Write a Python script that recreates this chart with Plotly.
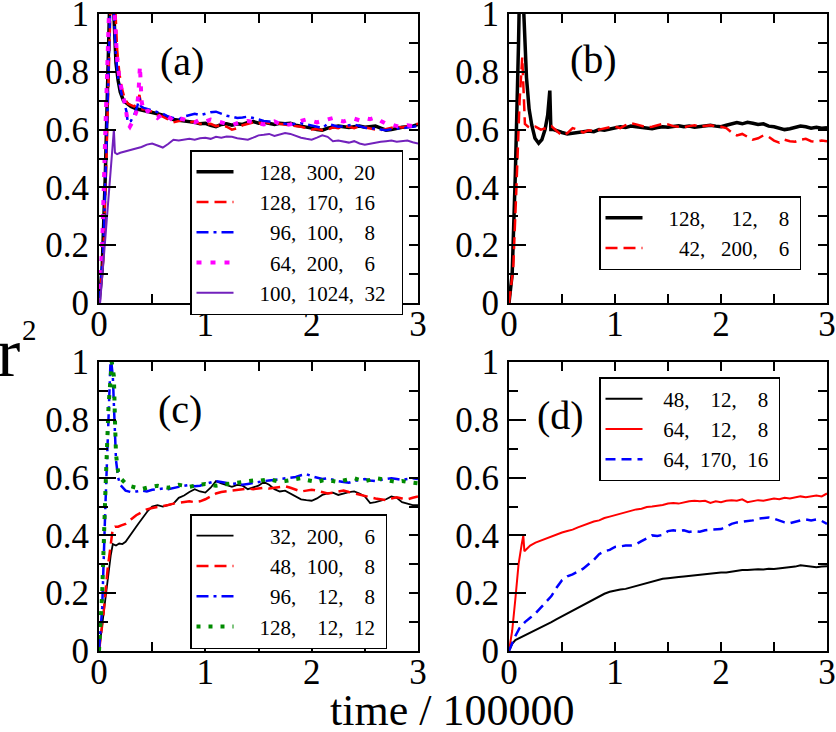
import plotly.graph_objects as go

# ---------------- shared time grid (time / 100000) for t >= 0.5 ----------------
GRID = [0.5, 0.55, 0.6, 0.65, 0.7, 0.75, 0.8, 0.85, 0.9, 0.95,
        1.0, 1.05, 1.1, 1.15, 1.2, 1.25, 1.3, 1.35, 1.4, 1.45,
        1.5, 1.55, 1.6, 1.65, 1.7, 1.75, 1.8, 1.85, 1.9, 1.95,
        2.0, 2.05, 2.1, 2.15, 2.2, 2.25, 2.3, 2.35, 2.4, 2.45,
        2.5, 2.55, 2.6, 2.65, 2.7, 2.75, 2.8, 2.85, 2.9, 2.95,
        3.0]

# ---------------- panel (a) ----------------
a_black_t0 = [0, 0.03, 0.06, 0.09, 0.115, 0.14, 0.16, 0.18, 0.2, 0.23, 0.26, 0.3, 0.35, 0.4, 0.45]
a_black_y0 = [0, 0.12, 0.45, 0.88, 1.25, 1.0, 0.83, 0.77, 0.73, 0.70, 0.69, 0.68, 0.672, 0.668, 0.665]
a_black_y = [0.662, 0.655, 0.65, 0.642, 0.635, 0.632, 0.630, 0.628, 0.625, 0.62,
             0.622, 0.615, 0.61, 0.618, 0.62, 0.615, 0.62, 0.618, 0.625, 0.628,
             0.622, 0.625, 0.62, 0.618, 0.622, 0.62, 0.622, 0.615, 0.612, 0.61,
             0.605, 0.6, 0.598, 0.605, 0.608, 0.612, 0.61, 0.607, 0.61, 0.612,
             0.608, 0.61, 0.612, 0.605, 0.598, 0.6, 0.605, 0.608, 0.61, 0.612,
             0.618]

a_red_t0 = [0, 0.04, 0.07, 0.1, 0.125, 0.15, 0.17, 0.19, 0.21, 0.24, 0.27, 0.3, 0.33, 0.36, 0.38, 0.39, 0.41, 0.45]
a_red_y0 = [0, 0.15, 0.5, 0.95, 1.25, 1.05, 0.88, 0.8, 0.75, 0.71, 0.69, 0.685, 0.68, 0.69, 0.72, 0.70, 0.67, 0.67]
a_red_y = [0.66, 0.652, 0.645, 0.635, 0.625, 0.63, 0.635, 0.625, 0.628, 0.62,
           0.618, 0.62, 0.612, 0.615, 0.61, 0.6, 0.605, 0.615, 0.62, 0.625,
           0.62, 0.628, 0.622, 0.625, 0.62, 0.618, 0.615, 0.612, 0.61, 0.605,
           0.6, 0.602, 0.598, 0.6, 0.608, 0.605, 0.612, 0.61, 0.605, 0.612,
           0.608, 0.602, 0.6, 0.598, 0.602, 0.605, 0.61, 0.607, 0.612, 0.615,
           0.62]

a_blue_t0 = [0, 0.04, 0.07, 0.1, 0.12, 0.14, 0.16, 0.18, 0.2, 0.22, 0.24, 0.26, 0.27, 0.3, 0.33, 0.36, 0.38, 0.395, 0.42, 0.46]
a_blue_y0 = [0, 0.18, 0.55, 0.98, 1.2, 1.0, 0.85, 0.78, 0.74, 0.71, 0.69, 0.66, 0.625, 0.63, 0.65, 0.68, 0.71, 0.68, 0.675, 0.67]
a_blue_y = [0.665, 0.66, 0.655, 0.645, 0.64, 0.635, 0.645, 0.65, 0.655, 0.65,
            0.655, 0.66, 0.662, 0.655, 0.648, 0.645, 0.64, 0.642, 0.645, 0.64,
            0.635, 0.63, 0.628, 0.625, 0.622, 0.62, 0.618, 0.62, 0.622, 0.618,
            0.615, 0.61, 0.605, 0.62, 0.615, 0.61, 0.612, 0.615, 0.618, 0.612,
            0.608, 0.602, 0.605, 0.6, 0.598, 0.602, 0.605, 0.603, 0.608, 0.61,
            0.612]

a_mag_t0 = [0, 0.03, 0.06, 0.09, 0.11, 0.13, 0.15, 0.17, 0.19, 0.21, 0.23, 0.25, 0.27, 0.29, 0.32, 0.35, 0.37, 0.385, 0.4, 0.42, 0.46]
a_mag_y0 = [0, 0.2, 0.6, 0.95, 1.2, 1.1, 0.95, 0.85, 0.78, 0.74, 0.71, 0.68, 0.62, 0.61, 0.63, 0.66, 0.72, 0.82, 0.7, 0.66, 0.665]
a_mag_y = [0.655, 0.64, 0.655, 0.645, 0.63, 0.64, 0.635, 0.63, 0.625, 0.635,
           0.628, 0.635, 0.63, 0.625, 0.62, 0.615, 0.622, 0.628, 0.63, 0.625,
           0.62, 0.618, 0.622, 0.628, 0.62, 0.615, 0.618, 0.625, 0.63, 0.635,
           0.63, 0.625, 0.63, 0.635, 0.64, 0.632, 0.628, 0.635, 0.638, 0.632,
           0.64, 0.636, 0.642, 0.63, 0.62, 0.618, 0.612, 0.61, 0.615, 0.612,
           0.61]

a_pur_t0 = [0, 0.01, 0.05, 0.09, 0.12, 0.14, 0.15, 0.17, 0.2, 0.25, 0.3, 0.35, 0.4, 0.45]
a_pur_y0 = [0, 0, 0.18, 0.37, 0.5, 0.6, 0.52, 0.515, 0.52, 0.525, 0.53, 0.535, 0.54, 0.548]
a_pur_y = [0.552, 0.545, 0.538, 0.55, 0.565, 0.562, 0.565, 0.568, 0.565, 0.57,
           0.572, 0.568, 0.575, 0.572, 0.576, 0.575, 0.57, 0.568, 0.565, 0.572,
           0.58, 0.582, 0.585, 0.578, 0.582, 0.588, 0.585, 0.578, 0.572, 0.568,
           0.565, 0.572, 0.58, 0.575, 0.56, 0.562, 0.558, 0.555, 0.56, 0.552,
           0.548, 0.552, 0.555, 0.558, 0.56, 0.562, 0.558, 0.56, 0.562, 0.556,
           0.552]

# ---------------- panel (b) ----------------
b_black_t0 = [0, 0.03, 0.06, 0.09, 0.115, 0.14, 0.165, 0.19, 0.215, 0.245, 0.28, 0.31, 0.34, 0.365, 0.385, 0.395, 0.42, 0.45]
b_black_y0 = [0, 0.1, 0.45, 0.9, 1.4, 1.0, 0.78, 0.67, 0.615, 0.57, 0.553, 0.565, 0.6, 0.65, 0.735, 0.6, 0.6, 0.595]
b_black_y = [0.59, 0.585, 0.588, 0.59, 0.592, 0.595, 0.593, 0.6, 0.598, 0.602,
             0.605, 0.61, 0.607, 0.612, 0.61, 0.608, 0.605, 0.603, 0.607, 0.61,
             0.608, 0.611, 0.613, 0.61, 0.612, 0.608, 0.61, 0.613, 0.615, 0.612,
             0.61, 0.615, 0.62, 0.624, 0.62, 0.625, 0.622, 0.618, 0.62, 0.612,
             0.61, 0.605, 0.6, 0.603, 0.608, 0.612, 0.61, 0.605, 0.608, 0.605,
             0.606]

b_red_t0 = [0, 0.04, 0.07, 0.1, 0.125, 0.14, 0.15, 0.18, 0.21, 0.25, 0.3, 0.35, 0.4, 0.45]
b_red_y0 = [0, 0.12, 0.4, 0.7, 0.85, 0.7, 0.62, 0.61, 0.605, 0.61, 0.6, 0.605, 0.612, 0.595]
b_red_y = [0.58, 0.588, 0.605, 0.6, 0.59, 0.598, 0.595, 0.6, 0.605, 0.608,
           0.61, 0.605, 0.615, 0.622, 0.618, 0.612, 0.608, 0.61, 0.615, 0.62,
           0.618, 0.612, 0.61, 0.608, 0.612, 0.615, 0.61, 0.612, 0.615, 0.612,
           0.61, 0.605, 0.59, 0.58, 0.585, 0.575, 0.565, 0.57, 0.58, 0.575,
           0.562, 0.555, 0.565, 0.56, 0.558, 0.565, 0.568, 0.56, 0.558, 0.562,
           0.56]

# ---------------- panel (c) ----------------
c_black_t0 = [0, 0.04, 0.08, 0.11, 0.13, 0.16, 0.19, 0.22, 0.25, 0.28, 0.31, 0.34, 0.37, 0.4, 0.43, 0.46]
c_black_y0 = [0, 0.12, 0.25, 0.33, 0.37, 0.365, 0.372, 0.37, 0.378, 0.395, 0.41, 0.425, 0.44, 0.455, 0.468, 0.485]
c_black_y = [0.5, 0.505, 0.5, 0.505, 0.51, 0.53, 0.538, 0.55, 0.56, 0.552,
             0.548, 0.565, 0.588, 0.58, 0.575, 0.568, 0.575, 0.572, 0.56, 0.565,
             0.572, 0.585, 0.575, 0.56, 0.552, 0.555, 0.545, 0.535, 0.525, 0.522,
             0.52, 0.528, 0.54, 0.545, 0.548, 0.54, 0.545, 0.55, 0.552, 0.545,
             0.535, 0.512, 0.515, 0.52, 0.525, 0.535, 0.53, 0.515, 0.51, 0.505,
             0.505]

c_red_t0 = [0, 0.04, 0.08, 0.11, 0.13, 0.15, 0.18, 0.21, 0.25, 0.3, 0.35, 0.4, 0.45]
c_red_y0 = [0, 0.12, 0.28, 0.38, 0.425, 0.43, 0.43, 0.435, 0.44, 0.455, 0.47, 0.48, 0.49]
c_red_y = [0.495, 0.498, 0.502, 0.505, 0.51, 0.512, 0.515, 0.518, 0.515, 0.518,
           0.525, 0.535, 0.545, 0.55, 0.552, 0.555, 0.558, 0.56, 0.562, 0.56,
           0.562, 0.565, 0.562, 0.565, 0.568, 0.57, 0.565, 0.558, 0.552, 0.555,
           0.558, 0.555, 0.55, 0.545, 0.548, 0.552, 0.555, 0.55, 0.545, 0.54,
           0.535, 0.532, 0.528, 0.525, 0.522, 0.528, 0.532, 0.528, 0.525, 0.53,
           0.535]

c_blue_t0 = [0, 0.03, 0.06, 0.09, 0.11, 0.13, 0.145, 0.16, 0.18, 0.2, 0.25, 0.3, 0.35, 0.4, 0.45]
c_blue_y0 = [0, 0.15, 0.5, 0.85, 1.02, 0.95, 0.78, 0.66, 0.6, 0.575, 0.555, 0.55, 0.552, 0.555, 0.552]
c_blue_y = [0.558, 0.56, 0.562, 0.56, 0.565, 0.568, 0.572, 0.575, 0.57, 0.572,
            0.578, 0.582, 0.588, 0.585, 0.582, 0.578, 0.58, 0.575, 0.578, 0.582,
            0.585, 0.588, 0.59, 0.592, 0.595, 0.598, 0.6, 0.602, 0.608, 0.612,
            0.605, 0.6, 0.595, 0.598, 0.592, 0.588, 0.585, 0.582, 0.588, 0.592,
            0.595, 0.59, 0.588, 0.592, 0.595, 0.598, 0.595, 0.592, 0.595, 0.598,
            0.595]

c_green_t0 = [0, 0.03, 0.06, 0.09, 0.12, 0.14, 0.15, 0.16, 0.18, 0.21, 0.25, 0.3, 0.35, 0.4, 0.45]
c_green_y0 = [0, 0.2, 0.55, 0.85, 1.0, 0.95, 0.8, 0.68, 0.62, 0.595, 0.58, 0.57, 0.565, 0.56, 0.565]
c_green_y = [0.57, 0.572, 0.568, 0.565, 0.57, 0.575, 0.572, 0.568, 0.572, 0.575,
             0.578, 0.575, 0.572, 0.575, 0.578, 0.58, 0.582, 0.585, 0.588, 0.59,
             0.588, 0.592, 0.595, 0.59, 0.585, 0.588, 0.592, 0.595, 0.598, 0.592,
             0.588, 0.585, 0.59, 0.592, 0.588, 0.585, 0.59, 0.595, 0.598, 0.592,
             0.588, 0.592, 0.598, 0.595, 0.59, 0.588, 0.585, 0.588, 0.585, 0.582,
             0.58]

# ---------------- panel (d) ----------------
d_black_t0 = [0, 0.03, 0.06, 0.1, 0.15, 0.2, 0.25, 0.3, 0.35, 0.4, 0.45]
d_black_y0 = [0, 0.025, 0.038, 0.045, 0.055, 0.063, 0.072, 0.08, 0.09, 0.1, 0.11]
d_black_y = [0.12, 0.128, 0.138, 0.148, 0.158, 0.168, 0.18, 0.19, 0.198, 0.205,
             0.21, 0.213, 0.215, 0.22, 0.225, 0.23, 0.235, 0.24, 0.245, 0.25,
             0.252, 0.255, 0.256, 0.258, 0.26, 0.262, 0.265, 0.266, 0.268, 0.27,
             0.272, 0.272, 0.275, 0.278, 0.28, 0.28, 0.282, 0.283, 0.282, 0.285,
             0.284, 0.286, 0.288, 0.29, 0.292, 0.297, 0.295, 0.293, 0.29, 0.292,
             0.293]

d_red_t0 = [0, 0.03, 0.06, 0.09, 0.12, 0.135, 0.145, 0.17, 0.2, 0.25, 0.3, 0.35, 0.4, 0.45]
d_red_y0 = [0, 0.07, 0.18, 0.3, 0.37, 0.4, 0.345, 0.355, 0.365, 0.375, 0.382, 0.39, 0.398, 0.405]
d_red_y = [0.41, 0.415, 0.42, 0.428, 0.435, 0.44, 0.448, 0.452, 0.46, 0.465,
           0.47, 0.475, 0.478, 0.485, 0.49, 0.492, 0.498, 0.5, 0.502, 0.505,
           0.51, 0.512, 0.51, 0.515, 0.518, 0.52, 0.518, 0.52, 0.512, 0.518,
           0.515, 0.52, 0.522, 0.52, 0.525, 0.515, 0.518, 0.522, 0.52, 0.525,
           0.528, 0.525, 0.53, 0.528, 0.532, 0.535, 0.532, 0.535, 0.538, 0.535,
           0.545]

d_blue_t0 = [0, 0.05, 0.1, 0.15, 0.2, 0.25, 0.3, 0.35, 0.4, 0.45]
d_blue_y0 = [0, 0.045, 0.08, 0.1, 0.115, 0.13, 0.15, 0.17, 0.19, 0.22]
d_blue_y = [0.245, 0.258, 0.265, 0.275, 0.285, 0.3, 0.315, 0.335, 0.345, 0.35,
            0.36, 0.362, 0.365, 0.365, 0.37, 0.38, 0.39, 0.4, 0.398, 0.402,
            0.415, 0.418, 0.415, 0.418, 0.412, 0.415, 0.413, 0.418, 0.42, 0.42,
            0.422, 0.43, 0.44, 0.445, 0.448, 0.45, 0.452, 0.458, 0.46, 0.462,
            0.458, 0.452, 0.445, 0.442, 0.448, 0.452, 0.455, 0.452, 0.455, 0.45,
            0.44]

# ---------------- legend labels ----------------
S = "\u00a0"
a_names = [S * 4 + "128," + S * 2 + "300," + S * 2 + "20" + S * 2,
           S * 4 + "128," + S * 2 + "170," + S * 2 + "16" + S * 2,
           S * 6 + "96," + S * 2 + "100," + S * 4 + "8" + S * 2,
           S * 6 + "64," + S * 2 + "200," + S * 4 + "6" + S * 2,
           S * 4 + "100," + S * 2 + "1024," + S * 2 + "32" + S * 2]
b_names = [S * 4 + "128," + S * 5 + "12," + S * 4 + "8" + S,
           S * 6 + "42," + S * 3 + "200," + S * 4 + "6" + S]
c_names = [S * 6 + "32," + S * 2 + "200," + S * 4 + "6" + S,
           S * 6 + "48," + S * 2 + "100," + S * 4 + "8" + S,
           S * 6 + "96," + S * 4 + "12," + S * 4 + "8" + S,
           S * 4 + "128," + S * 4 + "12," + S * 2 + "12" + S]
d_names = [S * 3 + "48," + S * 4 + "12," + S * 4 + "8" + S,
           S * 3 + "64," + S * 4 + "12," + S * 4 + "8" + S,
           S * 3 + "64," + S * 2 + "170," + S * 2 + "16" + S]

BLACK, RED, BLUE, MAG, GREEN, PURPLE = "#000000", "#ff0000", "#0000ff", "#ff00ff", "#008b00", "#7221bc"
DASH = "12px,6px"
DASHDOT = "12px,5px,3px,5px"
DOT = "5px,9px"

series = [
    # panel, t0, y0, late, name, color, width, dash
    ("a", a_black_t0, a_black_y0, a_black_y, a_names[0], BLACK, 3.5, "solid"),
    ("a", a_red_t0, a_red_y0, a_red_y, a_names[1], RED, 2.5, DASH),
    ("a", a_blue_t0, a_blue_y0, a_blue_y, a_names[2], BLUE, 2.5, DASHDOT),
    ("a", a_mag_t0, a_mag_y0, a_mag_y, a_names[3], MAG, 4, DOT),
    ("a", a_pur_t0, a_pur_y0, a_pur_y, a_names[4], PURPLE, 2, "solid"),
    ("b", b_black_t0, b_black_y0, b_black_y, b_names[0], BLACK, 3.5, "solid"),
    ("b", b_red_t0, b_red_y0, b_red_y, b_names[1], RED, 2.5, DASH),
    ("c", c_black_t0, c_black_y0, c_black_y, c_names[0], BLACK, 1.8, "solid"),
    ("c", c_red_t0, c_red_y0, c_red_y, c_names[1], RED, 2.5, DASH),
    ("c", c_blue_t0, c_blue_y0, c_blue_y, c_names[2], BLUE, 2.5, DASHDOT),
    ("c", c_green_t0, c_green_y0, c_green_y, c_names[3], GREEN, 4, "4px,8px"),
    ("d", d_black_t0, d_black_y0, d_black_y, d_names[0], BLACK, 2, "solid"),
    ("d", d_red_t0, d_red_y0, d_red_y, d_names[1], RED, 2, "solid"),
    ("d", d_blue_t0, d_blue_y0, d_blue_y, d_names[2], BLUE, 2.5, "10px,6px"),
]

PANEL = {"a": ("x", "y", "legend"), "b": ("x2", "y2", "legend2"),
         "c": ("x3", "y3", "legend3"), "d": ("x4", "y4", "legend4")}

fig = go.Figure()
for p, t0, y0, late, name, col, w, dash in series:
    if len(t0) != len(y0) or len(late) != len(GRID):
        raise ValueError("length mismatch in " + name)
    xa, ya, lg = PANEL[p]
    fig.add_trace(go.Scatter(x=t0 + GRID, y=y0 + late, mode="lines", name=name,
                             line=dict(color=col, width=w, dash=dash),
                             xaxis=xa, yaxis=ya, legend=lg, hoverinfo="skip"))

# dummy traces for the right-hand tick axes
for xa, ya in [("x", "y5"), ("x2", "y6"), ("x3", "y7"), ("x4", "y8")]:
    fig.add_trace(go.Scatter(x=[None], y=[None], xaxis=xa, yaxis=ya, showlegend=False, hoverinfo="skip"))

W, H = 836, 732
FONT = "Liberation Serif"
TICKFONT = dict(family=FONT, size=35, color="black")

def px_x(v):
    return v / W

def px_y(v):
    return 1 - v / H

XD = {"a": [px_x(99), px_x(418)], "b": [px_x(509), px_x(827)]}
YD = {"top": [px_y(303), px_y(14)], "bot": [px_y(651), px_y(362)]}

def xaxis(dom, anchor):
    return dict(domain=dom, anchor=anchor, range=[0, 3], tickmode="linear", tick0=0, dtick=1,
                ticks="inside", ticklen=9, tickwidth=1.5, tickcolor="black",
                minor=dict(ticks="inside", dtick=0.5, tick0=0, ticklen=9, tickwidth=1.5, tickcolor="black"),
                showline=True, linecolor="black", linewidth=2, mirror="allticks",
                showgrid=False, zeroline=False, tickfont=TICKFONT, ticklabelstandoff=-11,
                ticklabeloverflow="allow", automargin=False)

def yaxis(dom, anchor):
    return dict(domain=dom, anchor=anchor, range=[0, 1], tickmode="linear", tick0=0, dtick=0.2,
                ticks="inside", ticklen=17, tickwidth=1.5, tickcolor="black",
                minor=dict(ticks="inside", dtick=0.1, tick0=0, ticklen=9, tickwidth=1.5, tickcolor="black"),
                showline=True, linecolor="black", linewidth=2, mirror=False,
                showgrid=False, zeroline=False, tickfont=TICKFONT, ticklabelstandoff=1,
                ticklabeloverflow="allow", automargin=False)

def yright(over, anchor):
    return dict(overlaying=over, anchor=anchor, side="right", range=[0, 1], tickmode="linear",
                tick0=0, dtick=0.2, ticks="inside", ticklen=9, tickwidth=1.5, tickcolor="black",
                minor=dict(ticks="inside", dtick=0.1, tick0=0, ticklen=9, tickwidth=1.5, tickcolor="black"),
                showline=True, linecolor="black", linewidth=2, showticklabels=False,
                showgrid=False, zeroline=False, automargin=False)

LEGFONT = dict(family=FONT, size=21, color="black")

def legend(x, y):
    return dict(x=x, y=y, xanchor="left", yanchor="top", xref="paper", yref="paper",
                bgcolor="white", bordercolor="black", borderwidth=1.5, font=LEGFONT,
                itemwidth=37, tracegroupgap=0, itemclick=False, itemdoubleclick=False)

annotations = []
for label, cx, cy in [("(a)", 182, 62), ("(b)", 593, 60), ("(c)", 180, 410), ("(d)", 560, 415)]:
    annotations.append(dict(text=label, x=px_x(cx), y=px_y(cy), xref="paper", yref="paper",
                            xanchor="center", yanchor="middle", showarrow=False,
                            font=dict(family=FONT, size=40, color="black")))
annotations.append(dict(text="time / 100000", x=px_x(452), y=px_y(710), xref="paper", yref="paper",
                        xanchor="center", yanchor="middle", showarrow=False,
                        font=dict(family=FONT, size=44, color="black")))
annotations.append(dict(text="r", x=px_x(-5), y=px_y(352), xref="paper", yref="paper",
                        xanchor="left", yanchor="middle", showarrow=False,
                        font=dict(family=FONT, size=70, color="black")))
annotations.append(dict(text="2", x=px_x(20), y=px_y(330), xref="paper", yref="paper",
                        xanchor="left", yanchor="middle", showarrow=False,
                        font=dict(family=FONT, size=29, color="black")))

fig.update_layout(
    width=W, height=H, margin=dict(l=0, r=0, t=0, b=0, autoexpand=False),
    paper_bgcolor="white", plot_bgcolor="white", showlegend=True,
    xaxis=xaxis(XD["a"], "y"), yaxis=yaxis(YD["top"], "x"),
    xaxis2=xaxis(XD["b"], "y2"), yaxis2=yaxis(YD["top"], "x2"),
    xaxis3=xaxis(XD["a"], "y3"), yaxis3=yaxis(YD["bot"], "x3"),
    xaxis4=xaxis(XD["b"], "y4"), yaxis4=yaxis(YD["bot"], "x4"),
    yaxis5=yright("y", "x"), yaxis6=yright("y2", "x2"),
    yaxis7=yright("y3", "x3"), yaxis8=yright("y4", "x4"),
    legend=legend(px_x(190), px_y(150)),
    legend2=legend(px_x(599), px_y(196)),
    legend3=legend(px_x(190), px_y(514)),
    legend4=legend(px_x(599), px_y(377)),
    annotations=annotations,
)

fig.write_html("out.html")
